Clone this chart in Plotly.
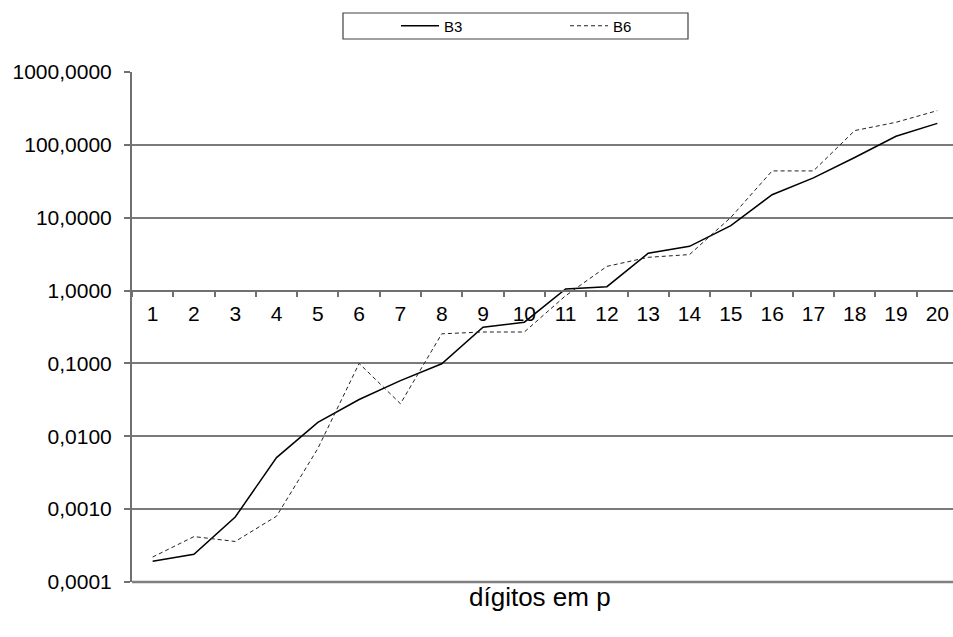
import plotly.graph_objects as go

categories = [str(i) for i in range(1, 21)]
b3 = [0.000192, 0.00024, 0.00078, 0.0051, 0.0155, 0.032, 0.058, 0.099, 0.314, 0.368,
      1.05, 1.13, 3.25, 4.05, 7.8, 20.7, 35.2, 67, 131, 197]
b6 = [0.00022, 0.00042, 0.00036, 0.00080, 0.0068, 0.10, 0.028, 0.255, 0.27, 0.27,
      0.85, 2.15, 2.86, 3.12, 10.1, 43.9, 43.9, 157, 204, 295]
y_tickvals = [0.0001, 0.001, 0.01, 0.1, 1, 10, 100, 1000]
y_ticktext = ["0,0001", "0,0010", "0,0100", "0,1000", "1,0000", "10,0000", "100,0000", "1000,0000"]
x_title = "dígitos em p"

W, H = 953, 637
L, R, T, B = 132, 0, 72, 55
pw, ph = W - L - R, H - T - B

def px_x(x):
    return (x - L) / pw

def px_y(y):
    return (H - B - y) / ph

fig = go.Figure()
fig.add_trace(go.Scatter(x=categories, y=b3, name="B3", mode="lines",
                         line=dict(color="black", width=1.5)))
fig.add_trace(go.Scatter(x=categories, y=b6, name="B6", mode="lines",
                         line=dict(color="#222222", width=1, dash="4px,3px")))

font = dict(family="Liberation Sans, Arial, sans-serif", color="black")

fig.update_layout(
    width=W, height=H,
    margin=dict(l=L, r=R, t=T, b=B),
    paper_bgcolor="white", plot_bgcolor="white",
    font=font,
    showlegend=True,
    legend=dict(orientation="h", x=px_x(396), xanchor="left", y=px_y(26), yanchor="middle",
                entrywidth=116, entrywidthmode="pixels", itemwidth=38,
                font=dict(size=15, family=font["family"], color="black"),
                bgcolor="rgba(0,0,0,0)", borderwidth=0),
    xaxis=dict(type="category", range=[-0.5, 19.38], anchor="free", position=4 / 7,
               showline=True, linecolor="#707070", linewidth=1.5,
               ticks="outside", tickson="boundaries", ticklen=6, tickcolor="#707070",
               tickwidth=1.5, showgrid=False, zeroline=False, ticklabelstandoff=4,
               tickfont=dict(size=21, family=font["family"], color="black")),
    yaxis=dict(type="log", range=[-4, 3], showline=True, linecolor="#707070", linewidth=2,
               mirror=False, ticks="outside", ticklen=6, tickcolor="#707070", tickwidth=1.5,
               tickvals=y_tickvals, ticktext=y_ticktext, showgrid=True,
               gridcolor="#7a7a7a", gridwidth=1.5, zeroline=False,
               ticklabelstandoff=8,
               tickfont=dict(size=21, family=font["family"], color="black")),
    shapes=[dict(type="rect", xref="paper", yref="paper",
                 x0=px_x(343), x1=px_x(688), y0=px_y(39), y1=px_y(13),
                 line=dict(color="#404040", width=1.2), fillcolor="rgba(0,0,0,0)"),
            dict(type="line", xref="paper", yref="paper", x0=0, x1=1, y0=0, y1=0,
                 line=dict(color="#808080", width=2.5))],
    annotations=[dict(text=x_title, xref="paper", yref="paper", x=px_x(540), y=px_y(597),
                      xanchor="center", yanchor="middle", showarrow=False,
                      font=dict(size=26, family=font["family"], color="black"))],
)

fig.write_html("out.html")
